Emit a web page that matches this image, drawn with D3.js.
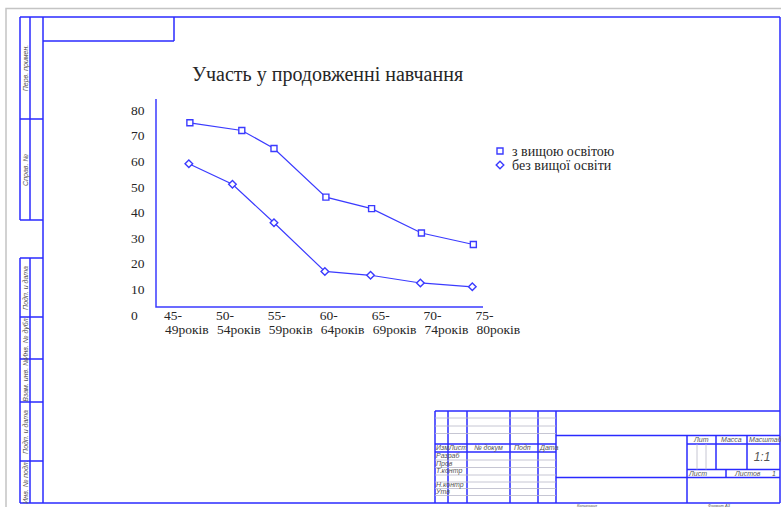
<!DOCTYPE html>
<html>
<head>
<meta charset="utf-8">
<title>Участь у продовженні навчання</title>
<style>
  body { margin: 0; background: #fff; }
  svg { display: block; }
  .frame { stroke: #2a2aff; stroke-width: 1.5; fill: none; }
  .thin { stroke: #b8b8c8; stroke-width: 0.8; fill: none; }
  .stamp { font-family: "Liberation Sans", sans-serif; font-style: italic; font-size: 7px; fill: #555; }
</style>
</head>
<body>
<div id="board"></div>
<script src="https://cdn.jsdelivr.net/npm/d3@7/dist/d3.min.js"></script>
<script>
// chart data
var categories = ["45-|49років", "50-|54років", "55-|59років", "60-|64років", "65-|69років", "70-|74років", "75-|80років"];
var catAges = [45, 50, 55, 60, 65, 70, 75];
var yTicks = [0, 10, 20, 30, 40, 50, 60, 70, 80];
var seriesNames = ["з вищою освітою", "без вищої освіти"];
// x positions of points (age)
var higherAge = [47.3, 52.3, 55.4, 60.4, 64.8, 69.6, 74.6];
var higherVal = [75, 72, 65, 46, 41.5, 32, 27.5];
var noHigherAge = [47.2, 51.4, 55.4, 60.3, 64.7, 69.5, 74.5];
var noHigherVal = [59, 51, 36, 17, 15.5, 12.5, 11];

var W = 781, H = 507;
var blue = "#3b3bff";
var svg = d3.select('#board').append('svg').attr('width', W).attr('height', H);

// ---- sheet + drawing frame ----
svg.append('path').attr('d', 'M6,507 V8.5 H781').attr('stroke', '#c4c4c4').attr('stroke-width', 1.5).attr('fill', 'none');

var fr = svg.append('g');
function ln(x1, y1, x2, y2, cls) {
  fr.append('line').attr('class', cls || 'frame')
    .attr('x1', x1).attr('y1', y1).attr('x2', x2).attr('y2', y2);
}
// outer
ln(20, 17, 780, 17); ln(780, 17, 780, 503); ln(20, 503, 780, 503); ln(43, 17, 43, 503);
// top-left box
ln(174, 17, 174, 41); ln(43, 41, 174, 41);
// left strips
ln(20, 17, 20, 220); ln(30, 17, 30, 220); ln(20, 119, 43, 119); ln(20, 220, 43, 220);
ln(20, 258, 20, 503); ln(30, 258, 30, 503);
[258, 317, 359, 402, 461].forEach(function(y){ ln(20, y, 43, y); });

var sideTexts = [["Перв. примен.", 68], ["Справ. №", 170], ["Подп. и дата", 288], ["Инв. № дубл.", 338],
                 ["Взам. инв. №", 380], ["Подп. и дата", 432], ["Инв. № подл.", 482]];
sideTexts.forEach(function(d){
  fr.append('text').attr('class', 'stamp').attr('text-anchor', 'middle')
    .attr('transform', 'translate(27.5,' + d[1] + ') rotate(-90)').text(d[0]);
});

// title block
ln(435, 411, 780, 411); ln(435, 411, 435, 503);
[448, 467, 510, 538, 556].forEach(function(x){ ln(x, 411, x, 503); });
[418, 426, 433.5].forEach(function(y){ ln(435, y, 556, y, 'thin'); });
ln(435, 444, 556, 444); ln(435, 452, 556, 452);
[460, 467.5, 475, 482, 488.5, 495.5].forEach(function(y){ ln(435, y, 556, y, 'thin'); });
ln(556, 435.5, 780, 435.5); ln(556, 477.5, 780, 477.5);
ln(687, 435.5, 687, 503); ln(687, 444, 780, 444); ln(687, 469.5, 780, 469.5);
ln(716, 435.5, 716, 469.5); ln(747, 435.5, 747, 469.5); ln(726, 469.5, 726, 477.5);
ln(697, 444, 697, 469.5, 'thin'); ln(706, 444, 706, 469.5, 'thin');

var stampTexts = [["Изм", 436, 450], ["Лист", 449, 450], ["№ докум", 474, 450], ["Подп", 514, 450], ["Дата", 540, 450],
                  ["Разраб", 436, 458], ["Пров", 436, 465.5], ["Т.контр", 436, 473], ["Н.контр", 436, 487], ["Утв", 436, 494],
                  ["Лит", 694, 441.5], ["Масса", 721, 441.5], ["Масштаб", 749, 441.5],
                  ["Лист", 689, 476], ["Листов", 735, 476], ["1", 772, 476]];
stampTexts.forEach(function(d){
  fr.append('text').attr('class', 'stamp').attr('x', d[1]).attr('y', d[2]).text(d[0]);
});
// captions under the frame (only their tops show in the sheet)
[["Копировал", 577], ["Формат А3", 708]].forEach(function(d){
  fr.append('text').attr('class', 'stamp').attr('x', d[1]).attr('y', 507).style('font-size', '4px').text(d[0]);
});
fr.append('text').attr('class', 'stamp').attr('x', 762).attr('y', 461).attr('text-anchor', 'middle')
  .style('font-size', '12px').text('1:1');

// ---- chart ----
var axisLeft = 156, axisBottom = 307, axisTop = 99, axisRight = 483;
var x = d3.scaleLinear().domain([45, 75]).range([166, 477.5]);
var y = d3.scaleLinear().domain([0, 80]).range([315, 110]);
var font = '"Liberation Serif", "Times New Roman", serif';
var txt = '#262626';

svg.append('text').attr('x', 327.5).attr('y', 81).attr('text-anchor', 'middle')
  .style('font-family', font).style('font-size', '20px').style('fill', txt)
  .text('Участь у продовженні навчання');

var g = svg.append('g');
g.append('path').attr('d', 'M' + axisLeft + ',' + axisTop + 'V' + axisBottom + 'H' + axisRight)
  .attr('stroke', blue).attr('stroke-width', 1.5).attr('fill', 'none');

g.selectAll('.ylab').data(yTicks).enter().append('text')
  .attr('class', 'ylab').attr('x', 131).attr('y', function(d){ return y(d); })
  .attr('dy', '0.35em').style('font-family', font).style('font-size', '13.5px').style('fill', txt)
  .text(function(d){ return d; });

var xl = g.selectAll('.xlab').data(categories).enter().append('text')
  .attr('class', 'xlab').style('font-family', font).style('font-size', '13.5px').style('fill', txt);
xl.append('tspan').attr('x', function(d, i){ return x(catAges[i]) - 2; }).attr('y', 320)
  .text(function(d){ return d.split('|')[0]; });
xl.append('tspan').attr('x', function(d, i){ return x(catAges[i]) - 1; }).attr('y', 334)
  .text(function(d){ return d.split('|')[1]; });

var line = d3.line().x(function(d){ return x(d[0]); }).y(function(d){ return y(d[1]); });
var s1 = d3.zip(higherAge, higherVal), s2 = d3.zip(noHigherAge, noHigherVal);
[s1, s2].forEach(function(s){
  g.append('path').attr('d', line(s)).attr('stroke', blue).attr('stroke-width', 1.2).attr('fill', 'none');
});

var sq = 'M-3,-3H3V3H-3Z';
var dm = 'M0,-3.8L3.8,0L0,3.8L-3.8,0Z';
function markers(data, sym) {
  g.append('g').selectAll('path').data(data).enter().append('path')
    .attr('d', sym).attr('transform', function(d){ return 'translate(' + x(d[0]) + ',' + y(d[1]) + ')'; })
    .attr('fill', '#fff').attr('stroke', blue).attr('stroke-width', 1.4);
}
markers(s1, sq);
markers(s2, dm);

// legend
var leg = g.selectAll('.leg').data(seriesNames).enter().append('g')
  .attr('class', 'leg').attr('transform', function(d, i){ return 'translate(500,' + (151 + i * 14) + ')'; });
leg.append('path').attr('d', function(d, i){ return i === 0 ? sq : dm; })
  .attr('fill', '#fff').attr('stroke', blue).attr('stroke-width', 1.4);
leg.append('text').attr('x', 12).attr('dy', '0.35em')
  .style('font-family', font).style('font-size', '14px').style('fill', txt)
  .text(function(d){ return d; });
</script>
</body>
</html>
